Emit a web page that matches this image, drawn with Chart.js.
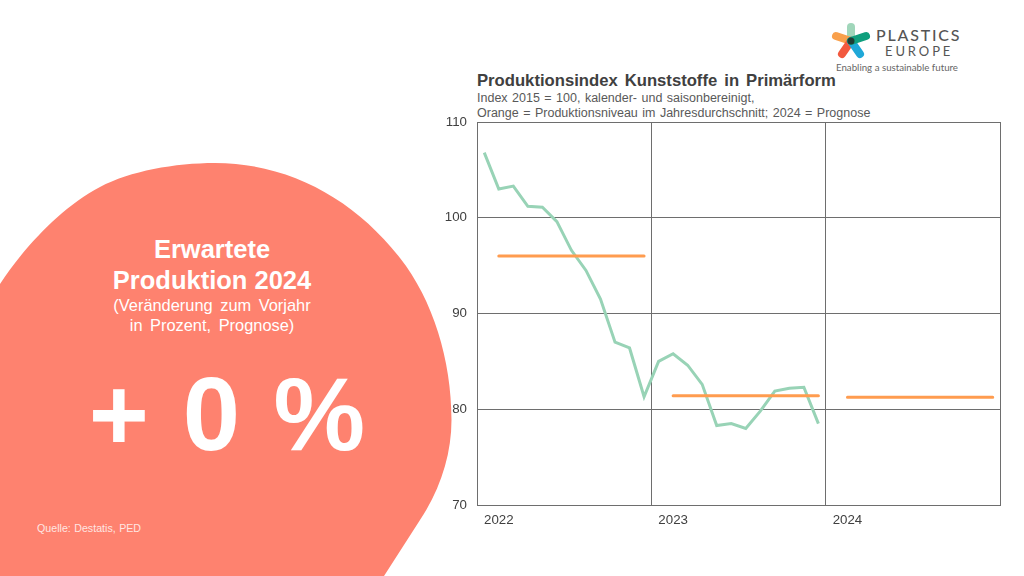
<!DOCTYPE html>
<html lang="de">
<head>
    <meta charset="UTF-8">
    <title>Produktionsindex Kunststoffe in Primärform</title>
    <style>
        html, body { margin: 0; padding: 0; background: #fff; }
        #page { position: relative; width: 1024px; height: 576px; overflow: hidden; font-family: "Liberation Sans", Arial, sans-serif; }
        #page > * { position: absolute; }
        #blob, #logo { left: 0; top: 0; }
        #chart { left: 0; top: 0; }
        .line { white-space: nowrap; line-height: 1; }
        .centre { left: 0; width: 424px; text-align: center; color: #fff; }
        .head { font-size: 25.5px; font-weight: bold; }
        .sub { font-size: 16.4px; word-spacing: 3px; }
        .big { font-size: 103px; font-weight: bold; word-spacing: 5px; }
        .note { left: 37px; top: 523px; font-size: 10.67px; color: #fff; opacity: .8; word-spacing: .5px; }
        .title { left: 477px; top: 73px; font-size: 16.67px; font-weight: bold; color: #404040; word-spacing: 2.4px; }
        .info { left: 477px; font-size: 12.5px; color: #595959; word-spacing: 1px; }
    </style>
    <script src="https://cdn.jsdelivr.net/npm/chart.js"></script>
</head>
<body>
<div id="page">
    <svg id="blob" width="1024" height="576">
        <path d="M0,284 C22,250 60,208 100,187 C130,171 175,163 215,163 C290,163 355,200 400,258 C433,300 451.5,360 451.5,420 C451.5,455 440,490 420,520 L384,576 L0,576 Z" fill="#fe826f"/>
    </svg>
    <svg id="logo" width="1024" height="576">
        <g fill="none" stroke-width="8" stroke-linecap="round">
            <line x1="851" y1="41" x2="851" y2="27" stroke="#a0d6ba"/>
            <line x1="851" y1="41" x2="836" y2="36" stroke="#f9a04c"/>
            <line x1="851" y1="41" x2="842" y2="54" stroke="#f2593f"/>
            <line x1="851" y1="41" x2="860" y2="54" stroke="#1fa8d8"/>
            <line x1="851" y1="41" x2="866" y2="36" stroke="#0f9f7d"/>
        </g>
        <circle cx="851" cy="41" r="3.5" fill="#1f3d36"/>
        <text x="876" y="41" font-family="Lato" font-size="16" font-weight="500" letter-spacing="1.8" fill="#555">PLASTICS</text>
        <text x="885" y="56" font-family="Lato" font-size="13" letter-spacing="2.9" fill="#555">EUROPE</text>
        <text x="836" y="71" font-family="Lato" font-size="9.7" fill="#666">Enabling a sustainable future</text>
    </svg>

    <div class="line centre head" style="top:237px">Erwartete</div>
    <div class="line centre head" style="top:268px">Produktion 2024</div>
    <div class="line centre sub" style="top:297px">(Veränderung zum Vorjahr</div>
    <div class="line centre sub" style="top:317px">in Prozent, Prognose)</div>
    <div class="line centre big" style="top:363px; left:15px">+ 0 %</div>
    <div class="line note">Quelle: Destatis, PED</div>

    <div class="line title">Produktionsindex Kunststoffe in Primärform</div>
    <div class="line info" style="top:92px">Index 2015 = 100, kalender- und saisonbereinigt,</div>
    <div class="line info" style="top:107px">Orange = Produktionsniveau im Jahresdurchschnitt; 2024 = Prognose</div>

    <canvas id="chart" width="1024" height="576"></canvas>
</div>

<script>
    // Months Jan 2022 - Dec 2024
    const months = [
        '01/22', '02/22', '03/22', '04/22', '05/22', '06/22', '07/22', '08/22', '09/22', '10/22', '11/22', '12/22',
        '01/23', '02/23', '03/23', '04/23', '05/23', '06/23', '07/23', '08/23', '09/23', '10/23', '11/23', '12/23',
        '01/24', '02/24', '03/24', '04/24', '05/24', '06/24', '07/24', '08/24', '09/24', '10/24', '11/24', '12/24'
    ];

    // Label sits under February of each year, as in the original
    const yearLabels = { '02/22': '2022', '02/23': '2023', '02/24': '2024' };

    const productionIndex = [
        106.8, 103.0, 103.3, 101.2, 101.1, 99.6, 96.6, 94.5, 91.5, 87.0, 86.4, 81.3,
        85.0, 85.8, 84.6, 82.6, 78.3, 78.5, 78.0, 79.8, 81.9, 82.2, 82.3, 78.5
    ];

    const yearlyLevel = [
        null, 96, 96, 96, 96, 96, 96, 96, 96, 96, 96, 96,
        null, 81.4, 81.4, 81.4, 81.4, 81.4, 81.4, 81.4, 81.4, 81.4, 81.4, 81.4,
        null, 81.25, 81.25, 81.25, 81.25, 81.25, 81.25, 81.25, 81.25, 81.25, 81.25, 81.25
    ];

    const gridColor = '#6e6e6e';

    new Chart(document.getElementById('chart'), {
        type: 'line',
        data: {
            labels: months,
            datasets: [
                {
                    label: 'Produktionsniveau im Jahresdurchschnitt',
                    data: yearlyLevel,
                    borderColor: '#ff9c4f',
                    borderWidth: 3,
                    borderCapStyle: 'round',
                    pointRadius: 0,
                    order: 1
                },
                {
                    label: 'Produktionsindex',
                    data: productionIndex,
                    borderColor: '#98d3b6',
                    borderWidth: 3,
                    pointRadius: 0,
                    tension: 0,
                    order: 2
                }
            ]
        },
        options: {
            responsive: false,
            animation: false,
            layout: { padding: { left: 437, top: 122, right: 24, bottom: 41 } },
            plugins: { legend: { display: false }, tooltip: { enabled: false } },
            scales: {
                x: {
                    offset: true,
                    afterFit: scale => { scale.height = 30; },
                    grid: {
                        offset: true,
                        drawTicks: false,
                        // Only year boundaries get a line
                        color: c => (c.index === undefined || c.index % 12 === 0) ? gridColor : 'transparent'
                    },
                    border: { color: gridColor },
                    ticks: {
                        autoSkip: false,
                        maxRotation: 0,
                        padding: 7,
                        color: '#404040',
                        font: { family: 'Liberation Sans', size: 13.3 },
                        callback: (value, index) => yearLabels[months[index]] || ''
                    }
                },
                y: {
                    min: 70,
                    max: 110,
                    afterFit: scale => { scale.width = 40; },
                    grid: { drawTicks: false, color: gridColor },
                    border: { color: gridColor },
                    ticks: {
                        stepSize: 10,
                        padding: 10,
                        color: '#404040',
                        font: { family: 'Liberation Sans', size: 13.3 }
                    }
                }
            }
        }
    });
</script>
</body>
</html>
